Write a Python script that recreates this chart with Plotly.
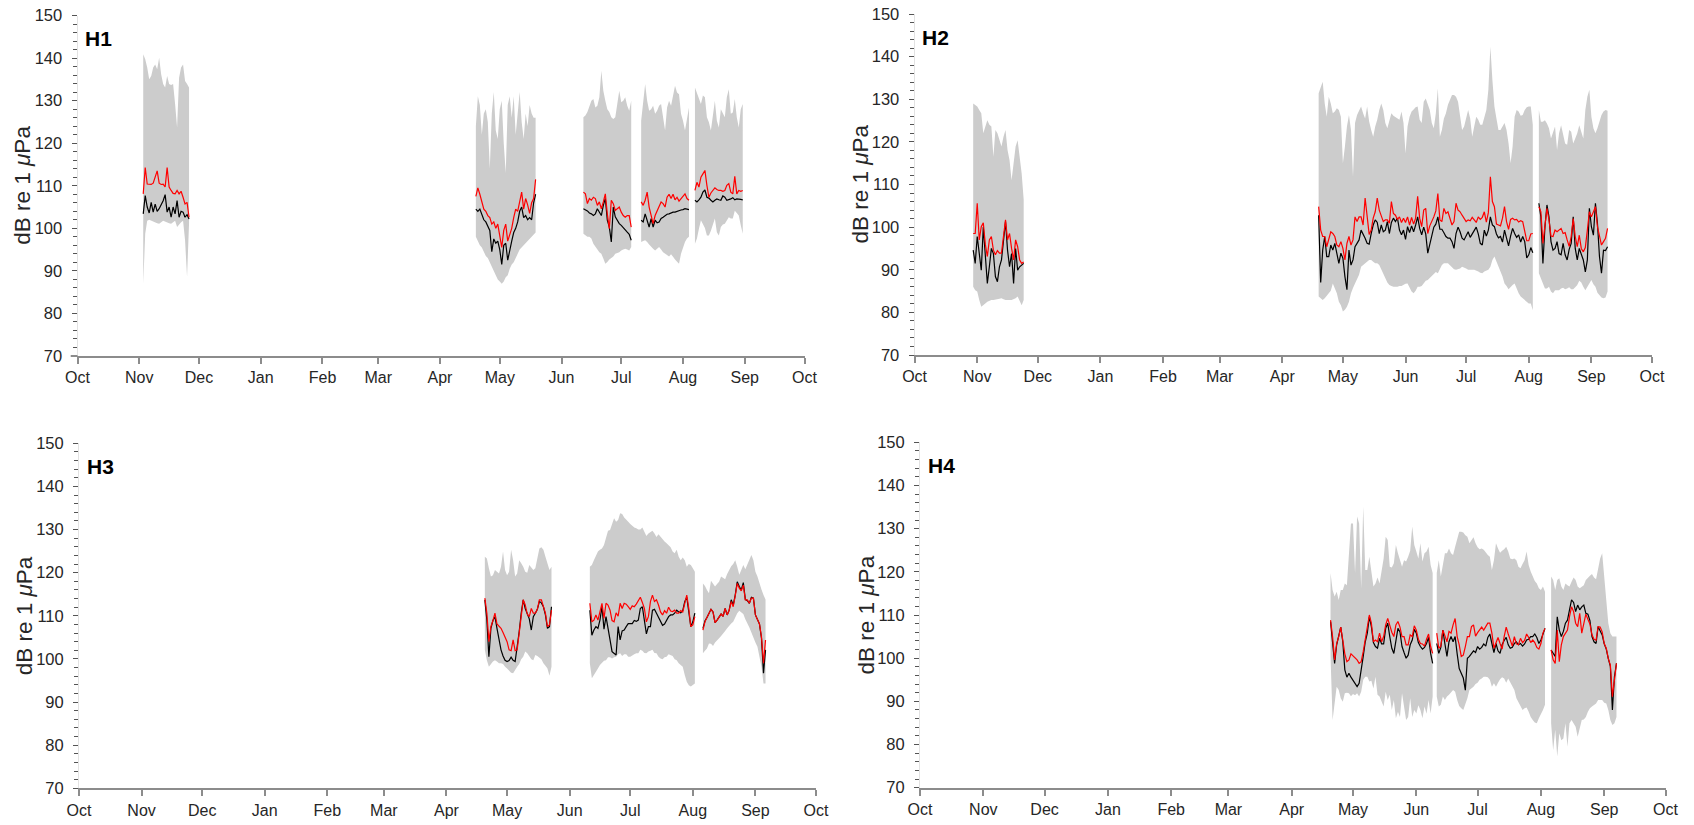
import plotly.graph_objects as go
from datetime import date, timedelta

# ---------------- data (dB re 1 uPa, daily values) ----------------
MONTH_TICKS = ["2010-10-01", "2010-11-01", "2010-12-01", "2011-01-01", "2011-02-01",
               "2011-03-01", "2011-04-01", "2011-05-01", "2011-06-01", "2011-07-01",
               "2011-08-01", "2011-09-01", "2011-10-01"]
MONTH_LABELS = ["Oct", "Nov", "Dec", "Jan", "Feb", "Mar", "Apr", "May", "Jun", "Jul",
                "Aug", "Sep", "Oct"]
Y_TICKS = [70, 80, 90, 100, 110, 120, 130, 140, 150]
PANEL_NAMES = ["H1", "H2", "H3", "H4"]

# ---- H1 ----
H1_NOV_START = "2010-11-03"
H1_NOV_MAX = [140.9, 139.7, 137.8, 135.0, 135.8, 137.8, 138.5, 137.4, 140.1, 136.2, 133.9, 133.1,
              135.8, 133.9, 133.7, 133.9, 129.2, 123.7, 135.4, 137.8, 138.5, 134.6, 133.9, 133.1]
H1_NOV_MIN = [87.0, 98.7, 101.8, 102.0, 101.8, 101.7, 101.4, 101.2, 101.1, 101.4, 101.8, 101.7,
              101.4, 101.2, 101.1, 101.4, 101.8, 100.3, 100.9, 101.4, 101.8, 97.2, 88.6, 101.1]
H1_NOV_MEDIAN = [103.4, 107.7, 105.0, 103.6, 106.1, 103.8, 105.7, 104.0, 104.6, 105.4, 106.5, 107.9,
                 103.8, 105.0, 102.6, 105.0, 103.4, 106.5, 102.6, 104.0, 103.8, 102.6, 103.2, 102.2]
H1_NOV_MEAN = [108.1, 114.3, 110.4, 110.3, 110.3, 110.6, 112.0, 113.5, 110.6, 110.3, 110.4, 109.7,
               114.3, 109.7, 108.9, 108.2, 108.1, 108.9, 108.1, 108.7, 107.3, 105.7, 106.1, 102.6]

H1_APR_START = "2011-04-19"
H1_APR_MAX = [124, 131, 129, 122, 127, 128, 125, 114, 127, 132, 123, 121, 128, 130, 120, 113,
              129, 131, 126, 131, 122, 127, 132, 125, 121, 127, 124, 129, 127, 126, 126]
H1_APR_MIN = [98, 97, 96, 95.5, 94.5, 93.5, 93, 92, 91, 90, 89, 88, 87.5, 87, 87.5, 88.5,
              89, 90.5, 91.5, 92, 93, 94, 95, 95.5, 96, 96.5, 97, 97.5, 98, 98.5, 99]
H1_APR_MEDIAN = [104.5, 104, 104.5, 103, 102, 101.5, 100.5, 99.5, 94.5, 97.5, 96.5, 97, 95, 91.5, 96,
                 96.5, 92.5, 95, 97, 99, 100, 101.5, 104, 105, 102.5, 103, 102, 102.5, 102, 106, 108]
H1_APR_MEAN = [107.5, 109.5, 108, 106, 104.5, 104, 103, 102.5, 101, 101.5, 100, 101, 98, 95.5, 99.5,
               101, 97, 98.5, 100, 102.5, 104.5, 104, 106.5, 108.5, 104.5, 107, 105.5, 103.5, 106, 107, 111.5]

H1_JUN_START = "2011-06-12"
H1_JUN_MAX = [126.1, 126.5, 127.3, 128.8, 130.0, 130.4, 128.4, 128.8, 130.8, 137.0, 132.3, 130.0, 128.0,
              127.3, 126.1, 125.7, 126.1, 129.2, 132.3, 129.6, 130.0, 130.8, 128.8, 127.6, 130.0]
H1_JUN_MIN = [98.7, 98.4, 98.0, 98.0, 97.6, 96.4, 95.6, 95.0, 94.4, 94.0, 92.9, 91.7, 92.1,
              92.7, 93.1, 93.4, 94.0, 94.2, 94.4, 94.8, 95.0, 95.2, 95.0, 94.8, 95.6]
H1_JUN_MEDIAN = [104.6, 104.4, 104.1, 103.6, 103.4, 103.0, 103.4, 104.6, 103.8, 103.0, 105.4, 107.0, 101.9,
                 100.3, 96.8, 105.0, 102.7, 101.9, 101.1, 100.7, 100.1, 99.5, 99.1, 98.6, 97.2]
H1_JUN_MEAN = [108.5, 108.1, 105.8, 107.0, 106.6, 107.3, 107.0, 105.4, 106.2, 104.6, 106.2, 108.1, 103.4,
               99.9, 106.6, 105.8, 104.2, 104.6, 105.0, 103.8, 103.0, 102.6, 103.0, 103.0, 100.3]

H1_JUL_START = "2011-07-11"
H1_JUL_MAX = [125.3, 130.0, 133.9, 130.0, 127.6, 128.0, 128.8, 126.9, 127.6, 128.8, 129.2, 126.1, 123.0,
              128.4, 130.0, 128.8, 131.5, 133.5, 131.9, 131.5, 126.9, 125.3, 123.0, 126.1, 128.4]
H1_JUL_MIN = [96.8, 97.0, 97.2, 96.8, 96.2, 95.6, 95.2, 94.8, 95.2, 95.6, 95.0, 94.4, 94.0,
              93.7, 93.4, 93.9, 93.3, 92.7, 92.1, 91.7, 94.0, 95.5, 96.8, 97.6, 98.0]
H1_JUL_MEDIAN = [101.9, 101.5, 103.4, 101.9, 100.3, 102.3, 100.3, 101.9, 101.3, 101.5, 102.3, 102.6, 103.0,
                 103.3, 103.4, 103.7, 103.8, 103.8, 104.0, 104.2, 104.3, 104.4, 104.6, 104.5, 104.4]
H1_JUL_MEAN = [106.2, 105.4, 106.6, 108.5, 105.0, 102.6, 101.1, 103.0, 104.2, 105.4, 106.2, 105.8, 105.0,
               107.3, 108.0, 107.0, 108.0, 106.7, 107.3, 106.4, 107.0, 107.5, 108.1, 107.0, 106.6]

H1_AUG_START = "2011-08-07"
H1_AUG_MAX = [133.1, 131.9, 130.4, 129.2, 131.2, 130.8, 126.1, 124.9, 123.0, 126.9, 130.0, 125.3, 123.7,
              128.0, 127.2, 126.1, 130.8, 132.7, 126.9, 127.2, 130.4, 126.1, 123.7, 128.0, 129.2]
H1_AUG_MIN = [96.4, 97.6, 99.9, 101.9, 101.1, 100.1, 98.3, 98.3, 99.4, 100.7, 102.3, 99.1, 98.3,
              100.3, 100.9, 101.1, 101.9, 102.6, 102.3, 102.3, 104.1, 103.6, 103.0, 100.7, 98.7]
H1_AUG_MEDIAN = [106.6, 106.2, 106.7, 107.3, 108.5, 109.0, 107.3, 107.1, 106.6, 106.2, 106.6, 106.9, 106.7,
                 106.6, 107.6, 107.3, 106.6, 106.7, 106.9, 107.2, 106.7, 106.9, 106.9, 106.8, 106.7]
H1_AUG_MEAN = [108.9, 110.8, 109.7, 112.0, 112.8, 113.6, 110.1, 107.3, 108.3, 108.9, 109.5, 109.1, 108.9,
               108.9, 108.7, 108.9, 110.1, 110.5, 108.5, 108.1, 112.2, 108.1, 108.9, 108.7, 108.9]

# ---- H2 ----
H2_NOV_START = "2010-10-30"
H2_NOV_MAX = [129.0, 128.6, 128.3, 127.5, 126.7, 122.0, 123.6, 125.1, 124.0, 123.6, 116.5, 122.8, 122.0,
              120.4, 118.9, 121.2, 122.8, 118.1, 115.7, 111.0, 115.0, 118.9, 120.4, 116.1, 112.6, 106.4]
H2_NOV_MIN = [86.0, 85.2, 84.9, 82.9, 81.3, 81.7, 82.1, 82.5, 82.7, 82.9, 82.9, 82.9, 83.1,
              83.2, 83.3, 83.1, 82.9, 82.9, 82.9, 82.9, 83.1, 83.3, 83.7, 82.9, 81.7, 82.9]
H2_NOV_MEDIAN = [94.6, 91.5, 97.8, 93.8, 89.9, 100.0, 93.8, 86.8, 90.7, 95.0, 93.8, 88.4, 87.2,
                 90.7, 92.3, 97.0, 101.3, 94.6, 90.7, 93.8, 86.8, 95.0, 89.9, 90.7, 91.0, 91.5]
H2_NOV_MEAN = [98.5, 98.5, 105.6, 97.0, 100.1, 101.0, 96.0, 93.1, 97.0, 97.8, 94.6, 93.5, 94.5,
               93.9, 93.9, 98.5, 101.7, 97.0, 98.5, 95.0, 92.3, 97.0, 95.4, 92.3, 91.5, 91.8]

H2_APR_START = "2011-04-19"
H2_APR_MAX = [131.4, 133.0, 134.1, 129.0, 125.9, 130.6, 129.0, 126.7, 127.1, 127.9, 127.5, 125.9, 115.0,
              118.9, 123.6, 126.3, 122.8, 111.8, 124.4, 126.3, 127.5, 128.3, 126.7, 125.5, 128.3, 124.8,
              122.8, 121.2, 123.6, 125.2, 127.5, 129.0, 127.5, 124.4, 123.2, 125.2, 126.7, 126.1, 125.8,
              125.3, 125.2, 127.1, 124.4, 117.3, 123.6, 125.9, 127.1, 127.6, 128.1, 128.3, 125.2, 124.4,
              129.4, 130.2, 129.0, 127.5, 124.4, 123.2, 126.7, 132.6, 121.2, 122.8, 125.5, 126.7, 128.7,
              129.8, 131.0, 131.0, 130.6, 129.4, 125.9, 122.8, 123.6, 125.9, 127.5, 125.5, 121.2, 123.6,
              125.9, 125.2, 124.0, 124.0, 125.5, 127.5, 132.2, 142.3, 134.5, 128.3, 125.5, 122.8, 122.8,
              123.6, 124.4, 122.8, 119.6, 115.0, 118.9, 125.9, 127.5, 127.1, 126.1, 126.3, 127.5, 128.1,
              128.3, 128.3, 124.0]
H2_APR_MIN = [83.7, 83.3, 82.9, 83.3, 83.7, 84.5, 85.1, 86.8, 85.7, 84.5, 82.5, 81.7, 80.2, 80.6, 81.3,
              82.5, 84.5, 85.7, 86.8, 87.6, 88.8, 90.7, 91.1, 91.5, 91.9, 92.3, 92.3, 91.9, 91.5, 91.5,
              91.1, 90.0, 89.2, 88.0, 87.0, 86.4, 86.2, 86.0, 86.0, 86.0, 86.2, 86.2, 86.4, 86.7, 86.8,
              86.0, 84.9, 84.5, 85.1, 86.0, 86.0, 86.2, 86.8, 87.4, 87.6, 88.0, 88.5, 89.0, 89.5, 89.2,
              90.3, 91.1, 91.5, 91.5, 91.5, 91.1, 90.6, 90.1, 90.0, 90.1, 90.3, 90.7, 90.6, 90.3, 90.0,
              90.0, 90.0, 90.0, 89.8, 89.6, 89.3, 89.2, 89.6, 89.8, 90.0, 90.7, 92.3, 93.1, 92.3, 90.9,
              89.6, 88.4, 86.8, 86.2, 85.4, 85.9, 86.4, 86.8, 85.6, 84.5, 83.7, 83.3, 82.9, 82.5, 82.1,
              82.1, 80.5]
H2_APR_MEDIAN = [102.8, 87.0, 94.6, 97.8, 93.1, 93.1, 95.8, 94.6, 96.2, 94.2, 91.5, 93.9, 92.7, 88.4,
                 85.3, 94.6, 91.1, 92.3, 95.4, 96.2, 97.0, 99.3, 98.5, 97.4, 96.2, 96.0, 98.5, 100.5,
                 101.7, 101.1, 98.5, 100.5, 98.9, 99.3, 101.3, 98.5, 101.1, 102.1, 101.3, 102.1, 99.3,
                 98.2, 99.3, 97.1, 100.1, 98.7, 100.3, 98.9, 100.5, 102.4, 99.7, 98.2, 100.0, 98.4, 93.9,
                 95.8, 98.4, 100.0, 100.7, 102.4, 99.5, 99.5, 98.7, 97.8, 97.4, 97.4, 96.6, 95.0, 98.5,
                 100.0, 98.9, 97.4, 97.0, 97.8, 98.9, 97.6, 98.5, 99.3, 100.0, 98.4, 96.2, 95.8, 99.3,
                 97.9, 99.3, 102.4, 100.5, 100.1, 98.4, 97.5, 97.8, 96.5, 99.3, 97.4, 95.6, 97.9, 99.7,
                 98.5, 97.6, 98.2, 96.5, 97.8, 96.6, 92.8, 93.5, 95.2, 94.0]
H2_APR_MEAN = [104.8, 99.3, 97.8, 97.8, 95.4, 97.0, 98.9, 98.5, 97.8, 95.8, 95.4, 96.6, 95.0, 92.3,
               96.2, 97.8, 95.8, 97.0, 102.4, 101.3, 102.4, 102.4, 100.5, 106.8, 101.7, 98.3, 99.3,
               102.1, 103.6, 106.8, 104.0, 102.8, 101.3, 101.7, 101.7, 100.9, 106.0, 103.2, 102.8, 101.8,
               102.4, 101.1, 102.1, 101.1, 102.4, 100.5, 102.3, 100.7, 102.1, 107.2, 102.1, 100.1, 104.0,
               104.4, 98.5, 100.3, 101.3, 102.4, 103.8, 107.9, 101.7, 101.3, 104.4, 103.2, 103.6, 102.1,
               100.5, 101.3, 105.6, 104.0, 103.6, 102.8, 102.1, 101.3, 101.7, 101.5, 102.3, 101.7, 101.1,
               102.4, 101.8, 102.3, 103.6, 101.2, 103.4, 111.8, 106.0, 104.8, 100.7, 100.5, 100.3, 102.1,
               104.8, 101.3, 99.5, 101.8, 102.1, 101.7, 101.8, 101.2, 101.5, 101.3, 99.0, 96.8, 96.8,
               98.4, 98.5]

H2_AUG_START = "2011-08-06"
H2_AUG_MAX = [127.5, 124.7, 124.7, 125.1, 124.3, 123.2, 120.8, 122.0, 123.6, 118.1, 122.0, 123.9, 121.6,
              119.6, 119.3, 122.8, 122.4, 119.6, 120.8, 122.0, 123.9, 122.0, 120.8, 127.5, 130.6, 132.2,
              125.9, 123.2, 122.0, 123.2, 125.1, 126.3, 127.1, 127.5, 127.3]
H2_AUG_MIN = [89.2, 88.0, 86.8, 85.6, 85.6, 86.0, 84.9, 84.5, 85.2, 85.2, 85.2, 85.6, 85.8, 85.4, 85.6,
              85.9, 85.4, 85.4, 85.9, 86.4, 87.4, 87.0, 86.0, 85.2, 85.9, 86.8, 87.6, 86.6, 86.0, 84.6,
              84.1, 83.5, 83.3, 83.5, 84.9]
H2_AUG_MEDIAN = [105.6, 102.4, 91.5, 100.0, 105.2, 102.4, 96.6, 94.6, 95.0, 96.6, 93.8, 93.5, 96.2, 93.5,
                 92.3, 94.8, 96.2, 102.4, 95.0, 92.3, 95.0, 93.5, 92.3, 89.5, 92.3, 104.4, 100.1, 98.1,
                 105.6, 100.9, 93.1, 89.2, 94.6, 94.5, 95.4]
H2_AUG_MEAN = [104.8, 103.6, 96.2, 100.0, 104.4, 101.7, 97.9, 97.8, 99.3, 98.9, 99.3, 99.7, 98.5, 98.7,
               97.0, 95.5, 97.8, 102.0, 97.8, 95.4, 98.1, 95.0, 94.2, 95.2, 99.3, 103.6, 102.4, 103.6,
               104.8, 100.1, 97.8, 95.8, 96.6, 97.4, 99.7]

# ---- H3 ----
H3_APR_START = "2011-04-20"
H3_APR_MAX = [123.7, 123.3, 121.0, 119.1, 119.4, 120.6, 120.2, 119.8, 121.4, 124.9, 120.6, 119.4, 120.2,
              125.3, 122.9, 119.1, 119.8, 122.9, 122.2, 121.4, 120.2, 120.0, 121.8, 121.2, 120.6, 121.0,
              123.3, 125.6, 125.9, 125.3, 123.7, 121.8, 120.6, 121.4]
H3_APR_MIN = [102.1, 99.7, 98.2, 98.8, 99.4, 99.7, 99.4, 99.0, 99.0, 98.8, 98.2, 97.8, 97.4, 96.8, 96.7,
              97.5, 98.2, 98.8, 99.9, 100.5, 101.7, 101.3, 100.7, 99.9, 99.7, 100.9, 100.7, 100.4, 99.9,
              99.0, 98.4, 97.8, 96.1, 98.2]
H3_APR_MEDIAN = [113.7, 109.0, 100.5, 107.1, 108.9, 109.8, 107.1, 104.4, 102.1, 100.7, 99.7, 99.4, 99.6,
                 100.4, 99.7, 99.4, 102.4, 106.3, 110.6, 113.7, 111.7, 110.4, 109.3, 106.7, 109.8, 110.6,
                 111.5, 113.3, 113.0, 112.1, 110.2, 107.1, 107.5, 112.1]
H3_APR_MEAN = [114.1, 110.6, 104.0, 107.5, 108.9, 110.6, 108.1, 107.5, 107.1, 106.1, 105.1, 104.0, 102.1,
               101.9, 104.4, 101.9, 102.1, 105.9, 110.6, 113.7, 112.5, 110.4, 109.8, 111.7, 110.6, 110.6,
               111.5, 113.7, 113.7, 112.1, 110.6, 107.5, 107.9, 111.3]

H3_JUN_START = "2011-06-11"
H3_JUN_MAX = [121.4, 121.8, 122.9, 124.1, 124.9, 125.3, 125.6, 126.4, 128.0, 129.7, 129.9, 131.1, 132.6,
              131.8, 132.2, 133.8, 133.6, 132.8, 132.4, 131.8, 131.3, 130.8, 130.5, 130.3, 130.0, 130.0,
              130.5, 129.5, 128.5, 129.1, 129.4, 129.7, 129.1, 128.3, 128.9, 128.3, 127.7, 127.2, 126.8,
              126.4, 125.9, 124.9, 124.5, 125.3, 123.7, 122.9, 123.5, 122.9, 121.4, 122.0, 121.8, 121.0,
              120.2]
H3_JUN_MIN = [99.0, 95.5, 96.3, 97.1, 97.8, 98.6, 99.1, 99.6, 99.7, 100.4, 100.4, 100.1, 100.4, 100.5,
              101.1, 101.3, 100.7, 101.1, 101.1, 100.5, 100.5, 100.7, 101.1, 101.3, 101.3, 102.1, 101.9,
              101.4, 101.3, 101.7, 101.9, 102.1, 101.4, 101.3, 100.5, 100.1, 99.9, 100.4, 100.5, 101.1,
              100.9, 100.7, 99.9, 99.7, 99.0, 98.6, 98.2, 96.3, 94.7, 93.9, 93.6, 93.9, 94.3]
H3_JUN_MEDIAN = [111.3, 105.5, 106.7, 107.5, 107.1, 109.0, 112.1, 106.9, 109.8, 107.5, 104.4, 101.7, 101.3,
                 100.9, 107.5, 104.4, 106.5, 106.7, 107.5, 108.2, 108.2, 108.2, 108.9, 108.7, 109.0, 111.7,
                 112.1, 109.0, 105.8, 107.5, 107.5, 111.3, 111.5, 110.6, 109.6, 108.7, 107.8, 108.1, 109.0,
                 109.8, 110.2, 110.2, 110.6, 111.3, 110.9, 110.7, 111.2, 113.3, 114.3, 110.9, 107.5, 108.6,
                 110.6]
H3_JUN_MEAN = [112.9, 108.6, 109.0, 110.2, 109.0, 111.3, 112.9, 109.4, 112.9, 112.5, 111.3, 108.9, 108.6,
               110.7, 109.9, 112.9, 111.7, 112.9, 112.7, 112.1, 111.5, 112.3, 112.1, 112.7, 113.7, 114.3,
               113.1, 111.7, 108.6, 109.8, 113.3, 114.8, 113.3, 113.7, 112.5, 110.9, 110.2, 111.2, 110.6,
               112.0, 111.1, 111.0, 111.3, 110.6, 110.6, 111.2, 110.9, 113.3, 114.8, 111.7, 107.5, 107.9,
               109.8]

H3_AUG_START = "2011-08-06"
H3_AUG_MAX = [117.5, 116.9, 116.0, 115.2, 118.1, 117.5, 116.8, 117.4, 117.9, 119.1, 118.7, 118.5, 119.7,
              120.6, 121.5, 122.0, 122.9, 121.4, 119.5, 120.6, 121.8, 120.8, 121.8, 123.1, 124.1, 122.9,
              120.2, 119.1, 117.4, 116.1, 114.8, 113.8]
H3_AUG_MIN = [101.3, 101.9, 102.4, 103.6, 103.5, 103.0, 103.8, 104.4, 104.8, 105.3, 105.8, 106.5, 107.1,
              107.5, 108.2, 108.6, 109.4, 110.6, 111.2, 110.9, 110.4, 109.2, 108.2, 107.3, 106.1, 104.8,
              103.8, 102.8, 100.9, 98.2, 94.3, 94.3]
H3_AUG_MEDIAN = [107.1, 108.8, 109.6, 110.6, 111.5, 110.9, 108.4, 109.0, 109.8, 110.4, 109.9, 111.7, 110.2,
                 111.3, 113.7, 112.5, 114.8, 117.9, 116.8, 116.0, 117.7, 113.8, 113.5, 112.9, 114.3, 114.1,
                 110.2, 109.0, 108.1, 104.8, 96.7, 102.1]
H3_AUG_MEAN = [106.7, 108.6, 109.6, 110.6, 111.5, 110.9, 108.4, 109.0, 109.8, 110.4, 109.9, 111.7, 110.2,
               111.3, 113.3, 112.1, 114.6, 117.5, 116.4, 115.8, 117.1, 113.7, 113.7, 112.9, 114.1, 114.1,
               110.2, 109.0, 108.1, 105.1, 99.0, 104.4]

# ---- H4 ----
H4_APR_START = "2011-04-20"
H4_APR_MAX = [119.7, 115.8, 114.3, 115.4, 113.5, 115.8, 115.8, 117.3, 116.9, 123.5, 131.2, 131.2, 119.7,
              132.8, 131.2, 116.2, 135.1, 120.4, 120.4, 123.5, 119.7, 116.6, 117.3, 118.7, 117.3, 120.4,
              123.1, 128.1, 127.4, 121.2, 121.0, 122.0, 126.2, 124.3, 122.4, 121.2, 122.7, 122.4, 123.5,
              124.9, 130.5, 126.2, 124.7, 123.1, 126.6, 122.4, 124.3, 124.7, 125.8, 121.6, 119.7]
H4_APR_MIN = [100.4, 85.7, 89.5, 93.4, 92.6, 90.7, 89.9, 91.9, 92.0, 91.9, 91.2, 91.7, 91.4, 91.9, 91.1,
              92.2, 95.0, 95.7, 95.7, 94.6, 94.8, 93.0, 95.7, 91.5, 91.1, 89.9, 88.8, 92.2, 90.3, 91.5,
              88.0, 90.3, 86.1, 87.6, 86.4, 91.9, 88.8, 85.7, 86.4, 90.7, 86.4, 88.0, 87.2, 89.1, 88.0,
              86.1, 88.8, 87.1, 90.3, 87.2, 91.1]
H4_APR_MEDIAN = [108.5, 103.4, 98.8, 103.1, 105.0, 107.2, 103.8, 97.3, 95.6, 96.5, 95.6, 94.8, 94.3, 93.4,
                 94.2, 96.9, 100.4, 103.8, 105.8, 109.6, 107.3, 103.6, 102.7, 102.3, 104.6, 103.3, 103.3,
                 106.9, 108.1, 105.0, 102.3, 101.1, 104.6, 106.9, 106.1, 102.7, 101.3, 100.0, 100.7, 103.1,
                 104.2, 106.7, 105.8, 103.6, 102.7, 102.1, 102.5, 103.4, 104.8, 101.1, 98.8]
H4_APR_MEAN = [108.8, 105.0, 99.6, 103.4, 105.0, 107.2, 104.2, 101.0, 99.2, 99.6, 101.0, 100.5, 99.9, 99.6,
               98.8, 99.2, 101.5, 104.4, 108.1, 110.0, 108.1, 103.8, 104.2, 103.8, 105.8, 103.8, 105.0,
               107.7, 109.2, 107.5, 106.0, 105.0, 107.7, 108.5, 107.2, 105.0, 105.0, 103.1, 103.1, 105.4,
               105.0, 107.5, 106.5, 104.4, 103.4, 103.3, 102.8, 104.4, 105.6, 102.7, 101.1]

H4_JUN_START = "2011-06-11"
H4_JUN_MAX = [119.7, 122.7, 118.9, 122.0, 124.3, 124.3, 125.4, 124.3, 123.9, 125.8, 127.8, 129.3, 129.3,
              129.1, 128.5, 128.1, 126.6, 127.4, 128.0, 126.6, 125.7, 125.2, 125.4, 125.1, 124.4, 123.9,
              123.5, 120.4, 122.7, 126.6, 125.4, 124.4, 124.9, 125.2, 125.8, 124.7, 123.1, 122.9, 123.1,
              122.7, 121.2, 120.8, 121.8, 122.7, 124.7, 121.6, 120.1, 118.9, 117.9, 117.3, 116.2, 115.8,
              116.6, 115.4]
H4_JUN_MIN = [91.1, 88.8, 89.2, 91.1, 90.3, 91.1, 91.5, 91.9, 92.6, 92.2, 90.3, 88.9, 88.4, 88.0, 89.2,
              90.7, 92.6, 93.0, 93.4, 94.0, 94.3, 95.0, 95.3, 95.7, 95.7, 95.6, 95.0, 93.4, 94.2, 93.4,
              94.3, 95.1, 95.6, 95.3, 94.3, 95.3, 94.6, 93.6, 92.6, 90.7, 89.9, 88.9, 88.0, 88.4, 88.6,
              87.6, 86.4, 85.7, 85.1, 84.9, 86.1, 87.1, 88.0, 89.2]
H4_JUN_MEDIAN = [103.4, 101.1, 102.5, 106.5, 103.3, 100.4, 103.8, 105.0, 103.8, 105.0, 101.0, 97.6, 96.5,
                 95.4, 92.6, 100.0, 100.4, 101.1, 101.7, 101.3, 102.7, 102.1, 102.5, 103.3, 102.8, 104.8,
                 105.6, 103.4, 101.3, 103.4, 101.7, 101.1, 103.1, 104.1, 104.8, 103.1, 102.3, 102.5, 103.4,
                 103.8, 103.1, 103.4, 102.8, 103.3, 104.2, 104.4, 105.0, 105.0, 105.6, 104.8, 103.4, 104.2,
                 105.8, 106.9]
H4_JUN_MEAN = [105.8, 102.3, 102.8, 106.5, 105.2, 103.8, 106.2, 105.8, 107.7, 109.2, 105.0, 103.1, 100.4,
               100.7, 102.7, 105.0, 105.0, 107.3, 107.7, 105.1, 105.9, 106.5, 107.2, 106.5, 107.2, 108.1,
               108.1, 105.8, 102.3, 103.4, 104.8, 103.4, 102.1, 105.0, 107.2, 105.6, 104.2, 102.8, 105.0,
               103.3, 103.1, 104.6, 103.6, 104.1, 105.6, 104.8, 103.6, 104.2, 103.6, 102.5, 102.1, 103.4,
               105.8, 106.9]

H4_AUG_START = "2011-08-06"
H4_AUG_MAX = [118.9, 118.1, 115.8, 118.1, 118.5, 116.6, 115.8, 117.3, 116.9, 116.6, 117.7, 118.7, 118.1,
              116.6, 116.2, 116.6, 116.9, 118.1, 118.7, 119.1, 119.5, 118.7, 118.3, 120.8, 123.1, 124.3,
              118.1, 113.5, 108.1, 105.8, 105.0, 105.0, 105.0]
H4_AUG_MIN = [84.9, 78.7, 83.4, 77.2, 82.6, 81.0, 81.4, 84.9, 79.5, 84.9, 85.7, 84.9, 84.1, 81.8, 83.4,
              85.7, 85.8, 86.4, 87.6, 88.4, 88.8, 89.2, 89.5, 90.3, 90.3, 90.3, 89.7, 89.5, 88.0, 85.7,
              84.5, 84.9, 86.4]
H4_AUG_MEDIAN = [101.9, 101.1, 100.4, 109.6, 106.5, 105.0, 106.2, 108.1, 108.8, 111.2, 113.5, 112.9, 110.8,
                 112.3, 111.2, 111.9, 112.3, 110.4, 110.2, 108.7, 105.0, 103.8, 103.4, 107.3, 106.4, 105.4,
                 103.3, 102.1, 99.9, 98.1, 88.0, 95.7, 98.8]
H4_AUG_MEAN = [101.9, 99.6, 98.8, 106.5, 99.2, 103.1, 105.0, 105.8, 106.5, 109.6, 111.9, 110.8, 108.1,
               107.3, 110.4, 105.8, 108.1, 110.2, 109.0, 107.9, 105.4, 104.4, 104.2, 107.3, 107.2, 106.1,
               103.4, 102.3, 99.9, 98.4, 91.1, 95.7, 98.8]

# ---------------- assembly ----------------
PANELS = [
    [(H1_NOV_START, H1_NOV_MAX, H1_NOV_MIN, H1_NOV_MEDIAN, H1_NOV_MEAN),
     (H1_APR_START, H1_APR_MAX, H1_APR_MIN, H1_APR_MEDIAN, H1_APR_MEAN),
     (H1_JUN_START, H1_JUN_MAX, H1_JUN_MIN, H1_JUN_MEDIAN, H1_JUN_MEAN),
     (H1_JUL_START, H1_JUL_MAX, H1_JUL_MIN, H1_JUL_MEDIAN, H1_JUL_MEAN),
     (H1_AUG_START, H1_AUG_MAX, H1_AUG_MIN, H1_AUG_MEDIAN, H1_AUG_MEAN)],
    [(H2_NOV_START, H2_NOV_MAX, H2_NOV_MIN, H2_NOV_MEDIAN, H2_NOV_MEAN),
     (H2_APR_START, H2_APR_MAX, H2_APR_MIN, H2_APR_MEDIAN, H2_APR_MEAN),
     (H2_AUG_START, H2_AUG_MAX, H2_AUG_MIN, H2_AUG_MEDIAN, H2_AUG_MEAN)],
    [(H3_APR_START, H3_APR_MAX, H3_APR_MIN, H3_APR_MEDIAN, H3_APR_MEAN),
     (H3_JUN_START, H3_JUN_MAX, H3_JUN_MIN, H3_JUN_MEDIAN, H3_JUN_MEAN),
     (H3_AUG_START, H3_AUG_MAX, H3_AUG_MIN, H3_AUG_MEDIAN, H3_AUG_MEAN)],
    [(H4_APR_START, H4_APR_MAX, H4_APR_MIN, H4_APR_MEDIAN, H4_APR_MEAN),
     (H4_JUN_START, H4_JUN_MAX, H4_JUN_MIN, H4_JUN_MEDIAN, H4_JUN_MEAN),
     (H4_AUG_START, H4_AUG_MAX, H4_AUG_MIN, H4_AUG_MEDIAN, H4_AUG_MEAN)],
]

W, H = 1694, 825
FONT = "Arial, 'Liberation Sans', Helvetica, sans-serif"
TXT = "#262626"

# pixel boxes of the four plot areas: (left, right, top, bottom)
BOXES = [(77.5, 804.5, 15.5, 356.0),
         (914.6, 1652.0, 14.0, 355.0),
         (79.0, 816.0, 443.3, 788.3),
         (920.0, 1665.5, 442.3, 787.7)]


def day_list(start, n):
    d0 = date.fromisoformat(start)
    return [(d0 + timedelta(days=i)).isoformat() for i in range(n)]


fig = go.Figure()
for k, segs in enumerate(PANELS, start=1):
    xa = "x" if k == 1 else f"x{k}"
    ya = "y" if k == 1 else f"y{k}"
    for start, mx, mn, med, mean in segs:
        xs_max = day_list(start, len(mx))
        xs_min = day_list(start, len(mn))
        fig.add_trace(go.Scatter(
            x=xs_max + xs_min[::-1], y=mx + mn[::-1], mode="lines",
            fill="toself", fillcolor="#cccccc", line=dict(width=0, color="#cccccc"),
            hoverinfo="skip", showlegend=False, xaxis=xa, yaxis=ya))
    for start, mx, mn, med, mean in segs:
        fig.add_trace(go.Scatter(
            x=day_list(start, len(med)), y=med, mode="lines",
            line=dict(color="#000000", width=1.2), showlegend=False, xaxis=xa, yaxis=ya))
    for start, mx, mn, med, mean in segs:
        fig.add_trace(go.Scatter(
            x=day_list(start, len(mean)), y=mean, mode="lines",
            line=dict(color="#ff0000", width=1.2), showlegend=False, xaxis=xa, yaxis=ya))

layout = dict(
    template="none",
    width=W, height=H, autosize=False,
    margin=dict(l=0, r=0, t=0, b=0, pad=0, autoexpand=False),
    paper_bgcolor="white", plot_bgcolor="white",
    showlegend=False,
    font=dict(family=FONT, color=TXT, size=15),
)

annotations = []
for k, (l, r, t, b) in enumerate(BOXES, start=1):
    xkey = "xaxis" if k == 1 else f"xaxis{k}"
    ykey = "yaxis" if k == 1 else f"yaxis{k}"
    anchor_x = "y" if k == 1 else f"y{k}"
    anchor_y = "x" if k == 1 else f"x{k}"
    layout[xkey] = dict(
        domain=[l / W, r / W], anchor=anchor_x, type="date", automargin=False,
        range=[MONTH_TICKS[0], MONTH_TICKS[-1]],
        tickmode="array", tickvals=MONTH_TICKS, ticktext=MONTH_LABELS,
        ticks="outside", ticklen=6, tickwidth=1.5, tickcolor="#8c8c8c",
        showline=True, linecolor="#8c8c8c", linewidth=2,
        showgrid=False, zeroline=False,
        tickfont=dict(family=FONT, size=16, color=TXT),
    )
    layout[ykey] = dict(
        domain=[1 - b / H, 1 - t / H], anchor=anchor_y, automargin=False,
        range=[70, 150], tickmode="array", tickvals=Y_TICKS,
        ticks="outside", ticklen=5, tickwidth=1, tickcolor="#555555",
        ticklabelstandoff=6,
        minor=dict(dtick=2, tick0=70, ticks="outside", ticklen=4, tickwidth=1, tickcolor="#555555"),
        showline=True, linecolor="#e3e3e3", linewidth=1,
        showgrid=False, zeroline=False,
        tickfont=dict(family=FONT, size=16.5, color=TXT),
    )
    # y title
    annotations.append(dict(
        xref="paper", yref="paper", x=(l - 54.5) / W, y=1 - ((t + b) / 2) / H,
        text="dB re 1 <i>μ</i>Pa", textangle=-90, showarrow=False,
        xanchor="center", yanchor="middle",
        font=dict(family=FONT, size=22.5, color=TXT)))
    # panel label
    annotations.append(dict(
        xref="paper", yref="paper", x=(l + 5.5) / W, y=1 - (t + 23.5) / H,
        text="<b>%s</b>" % PANEL_NAMES[k - 1], showarrow=False,
        xanchor="left", yanchor="middle",
        font=dict(family=FONT, size=21, color="#000000")))

layout["annotations"] = annotations
# in panel H1 the bottom axis line starts a little left of the vertical axis
l1, r1, t1, b1 = BOXES[0]
layout["shapes"] = [dict(type="line", xref="paper", yref="paper",
                         x0=70.7 / W, x1=l1 / W, y0=1 - b1 / H, y1=1 - b1 / H,
                         line=dict(color="#8c8c8c", width=2))]
fig.update_layout(**layout)

fig.write_html("out.html", config={"displayModeBar": False},
               post_script="document.body.style.margin='0';document.body.style.overflow='hidden';")
